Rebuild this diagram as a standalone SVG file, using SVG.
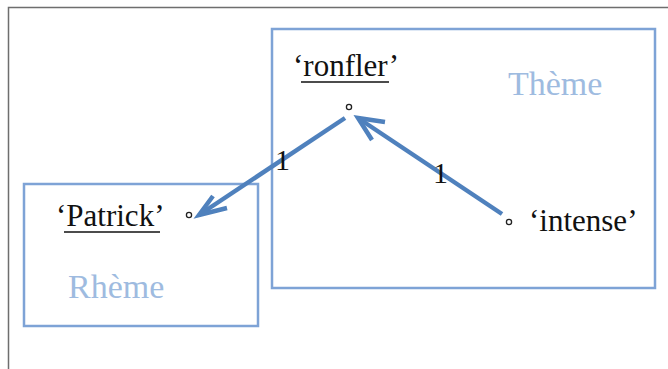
<svg xmlns="http://www.w3.org/2000/svg" width="668" height="369" viewBox="0 0 668 369">
<defs>
<style>
.frame{fill:none;stroke:#6e6e6e;stroke-width:1.5}
.box{fill:none;stroke:#7ea3d6;stroke-width:2.5}
.t{font-family:"Liberation Serif","Times New Roman",serif;font-size:31px;fill:#111}
.lab{font-family:"Liberation Serif","Times New Roman",serif;font-size:34px;fill:#9ebbe0}
.num{font-family:"Liberation Serif","Times New Roman",serif;font-size:30px;fill:#111}
.ul{stroke:#111;stroke-width:1.5}
.dot{fill:#fff;stroke:#222;stroke-width:1.3}
.arr{fill:none;stroke:#4f81bd;stroke-width:4.5;stroke-linecap:butt}
</style>
</defs>
<rect width="668" height="369" fill="#fff"/>
<polyline class="frame" points="8.5,369 8.5,7.5 668,7.5"/>
<g id="theme">
<rect class="box" x="272" y="29" width="383" height="259"/>
<text class="lab" x="508" y="95">Thème</text>
</g>
<g id="rheme">
<rect class="box" x="24" y="184" width="234" height="142"/>
<text class="lab" x="68" y="298">Rhème</text>
</g>
<g id="ronfler">
<text class="t" x="293" y="76">‘ronfler’</text>
<line class="ul" x1="301" y1="82" x2="389" y2="82"/>
<circle class="dot" cx="349" cy="107" r="2.6"/>
</g>
<g id="patrick">
<text class="t" x="56" y="226">‘Patrick’</text>
<line class="ul" x1="64" y1="232" x2="160" y2="232"/>
<circle class="dot" cx="189" cy="215" r="2.6"/>
</g>
<g id="intense">
<circle class="dot" cx="509" cy="222" r="2.6"/>
<text class="t" x="529" y="231">‘intense’</text>
</g>
<g id="connectors">
<line class="arr" x1="345" y1="118" x2="202" y2="213"/>
<polyline class="arr" points="213,196 199,215 227,208"/>
<text class="num" x="275" y="170">1</text>
<line class="arr" x1="502" y1="214" x2="361" y2="120"/>
<polyline class="arr" points="372,140 358,118 385,122"/>
<text class="num" x="433" y="183">1</text>
</g>
</svg>
